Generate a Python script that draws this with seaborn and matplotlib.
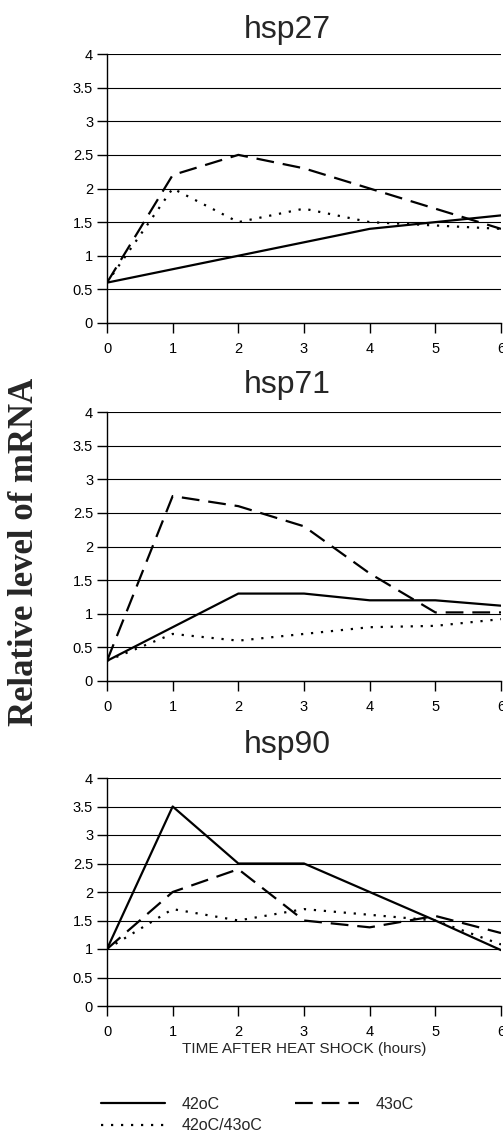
import pandas as pd
import seaborn as sns
import matplotlib.pyplot as plt

hours = [0, 1, 2, 3, 4, 5, 6]
conditions = ["42oC", "43oC", "42oC/43oC"]

hsp27_42 = [0.6, 0.8, 1.0, 1.2, 1.4, 1.5, 1.6]
hsp27_43 = [0.6, 2.2, 2.5, 2.3, 2.0, 1.7, 1.4]
hsp27_4243 = [0.6, 2.0, 1.5, 1.7, 1.5, 1.45, 1.4]

hsp71_42 = [0.3, 0.8, 1.3, 1.3, 1.2, 1.2, 1.12]
hsp71_43 = [0.3, 2.75, 2.6, 2.3, 1.6, 1.02, 1.02]
hsp71_4243 = [0.3, 0.7, 0.6, 0.7, 0.8, 0.82, 0.92]

hsp90_42 = [1.0, 3.5, 2.5, 2.5, 2.0, 1.5, 0.98]
hsp90_43 = [1.0, 2.0, 2.4, 1.5, 1.38, 1.58, 1.28]
hsp90_4243 = [1.0, 1.7, 1.5, 1.7, 1.6, 1.5, 1.08]

genes = ["hsp27", "hsp71", "hsp90"]
series = {
    "hsp27": [hsp27_42, hsp27_43, hsp27_4243],
    "hsp71": [hsp71_42, hsp71_43, hsp71_4243],
    "hsp90": [hsp90_42, hsp90_43, hsp90_4243],
}

rows = []
for g in genes:
    for c, vals in zip(conditions, series[g]):
        for h, v in zip(hours, vals):
            rows.append({"gene": g, "condition": c, "hour": h, "level": v})
df = pd.DataFrame(rows)

sns.set_style("white")
plt.rcParams["font.family"] = ["Liberation Sans", "DejaVu Sans"]

W, H = 503, 1134
fig = plt.figure(figsize=(W / 100, H / 100), dpi=100)

# axes boxes in pixels: (left, top, right, bottom)
boxes = [(107, 54, 501, 323), (107, 412, 501, 681), (107, 778, 501, 1006)]
title_y = [30, 385, 745]

dashes = {"42oC": "", "43oC": (8, 4), "42oC/43oC": (1, 3.5)}

for i, g in enumerate(genes):
    l, t, r, b = boxes[i]
    ax = fig.add_axes([l / W, 1 - b / H, (r - l) / W, (b - t) / H])
    sns.lineplot(data=df[df.gene == g], x="hour", y="level", style="condition",
                 style_order=conditions, dashes=dashes, color="black",
                 linewidth=1.6, legend=(i == 2), ax=ax)
    ax.set_xlim(0, 6)
    ax.set_ylim(0, 4)
    ax.set_xticks(hours)
    ax.set_yticks([0, 0.5, 1, 1.5, 2, 2.5, 3, 3.5, 4])
    ax.set_yticklabels(["0", "0.5", "1", "1.5", "2", "2.5", "3", "3.5", "4"])
    ax.grid(axis="y", color="black", linewidth=0.8)
    ax.set_axisbelow(True)
    for s in ["top", "right"]:
        ax.spines[s].set_visible(False)
    for s in ["left", "bottom"]:
        ax.spines[s].set_color("black")
        ax.spines[s].set_linewidth(1.0)
    ax.tick_params(axis="both", direction="out", length=7, width=1.0,
                   colors="black", labelsize=10.5, left=True, bottom=True)
    ax.tick_params(axis="x", pad=7)
    ax.tick_params(axis="y", pad=3)
    ax.set_ylabel("")
    ax.set_xlabel("")
    fig.text(287 / W, 1 - title_y[i] / H, g, ha="center", va="center", fontsize=23)

    if i == 2:
        ax.set_xlabel("TIME AFTER HEAT SHOCK (hours)", fontsize=11, labelpad=2)
        handles, labels = ax.get_legend_handles_labels()
        hmap = dict(zip(labels, handles))
        order = ["42oC", "42oC/43oC", "43oC"]
        ax.legend([hmap[k] for k in order], order, ncol=2, frameon=False,
                  fontsize=11.5, handlelength=4.0, handletextpad=1.05,
                  columnspacing=2.0, labelspacing=0.4,
                  loc="upper left", bbox_to_anchor=(-20 / 394, -0.335))

fig.text(25 / W, 1 - 552 / H, "Relative level of mRNA", rotation=90,
         ha="center", va="center", fontsize=25, fontweight="bold",
         family="Liberation Serif")

fig.savefig("out.png", dpi=100)
